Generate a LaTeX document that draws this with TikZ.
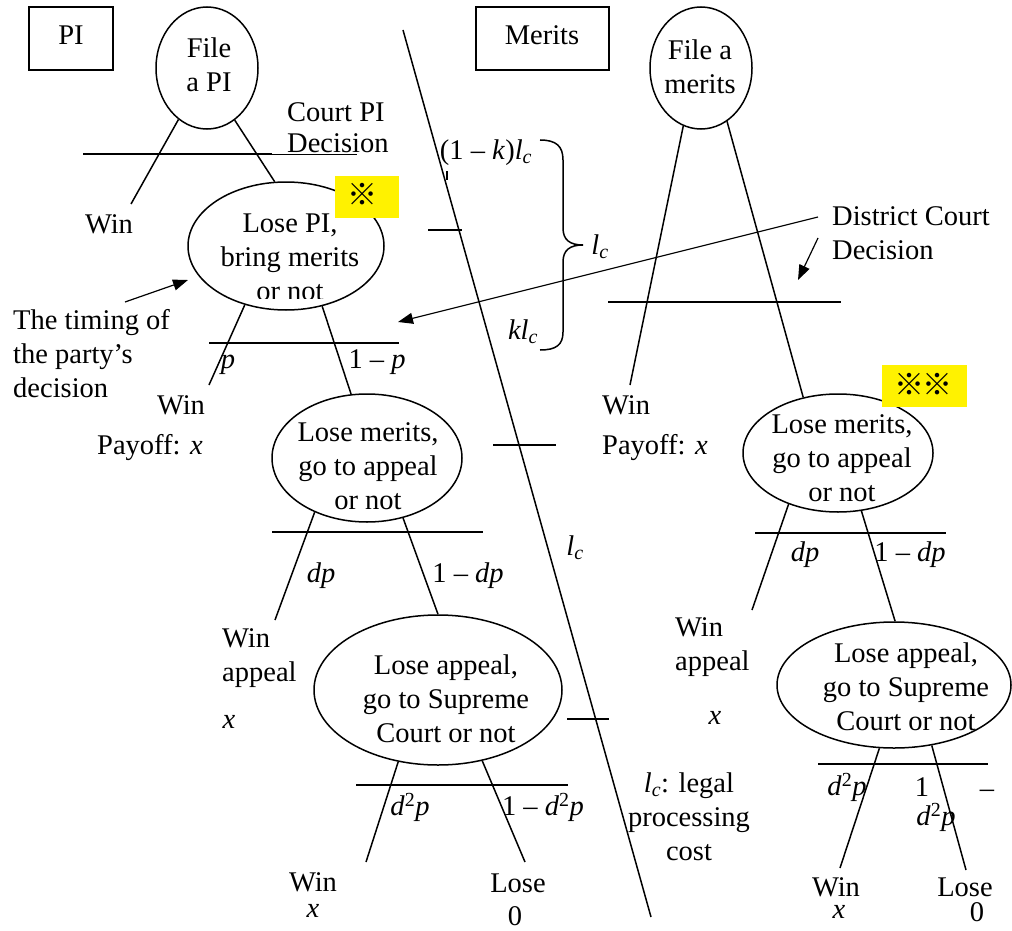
\documentclass[tikz,border=0pt]{standalone}
\usepackage{fontspec}
\setmainfont{Liberation Serif}
\newfontfamily\cjk{Noto Sans CJK JP}
\usetikzlibrary{shapes.geometric,arrows.meta}
\begin{document}
\begin{tikzpicture}[x=1pt,y=-1pt,
  every node/.style={font=\fontsize{28.5}{34}\selectfont, inner sep=0pt},
  lbl/.style={align=center},
  lblL/.style={align=left, anchor=west},
  oval/.style={draw, ellipse, line width=1.5pt},
  ln/.style={line width=1.5pt},
  thin/.style={line width=0.8pt},
  box/.style={draw, line width=1.5pt},
  arr/.style={line width=1.2pt, -{Triangle[length=15pt,width=11pt]}},
  refmark/.style={font=\cjk\fontsize{30}{30}\selectfont},
]
\useasboundingbox (0,0) rectangle (1012,931);

% title boxes
\node[box, minimum width=84pt, minimum height=63pt] (pibox) at (71,38.5) {};
\node (pilbl) at (71,35) {PI};
\node[box, minimum width=133pt, minimum height=63pt] (meritsbox) at (542.5,38.5) {};
\node (meritslbl) at (542,35) {Merits};

% ellipses
\node[oval, minimum width=102pt, minimum height=122pt] (filePI) at (207,68) {};
\node[oval, minimum width=196pt, minimum height=128pt] (losePI) at (286,246) {};
\node[oval, minimum width=190pt, minimum height=128pt] (lmL) at (367,458) {};
\node[oval, minimum width=248pt, minimum height=150pt] (laL) at (438,690) {};
\node[oval, minimum width=102pt, minimum height=122pt] (fileM) at (701,68) {};
\node[oval, minimum width=190pt, minimum height=118pt] (lmR) at (838,453) {};
\node[oval, minimum width=234pt, minimum height=126pt] (laR) at (894,685) {};

% ellipse texts
\node[lbl] (filePIt) at (209,65) {File\\a PI};
\begin{scope}
  \clip (180,190) rectangle (400,298);
  \node[lbl] (losePIt) at (290,257) {Lose PI,\\bring merits\\or not};
\end{scope}
\node[lbl] (lmLt) at (368,466) {Lose merits,\\go to appeal\\or not};
\node[lbl] (laLt) at (446,699) {Lose appeal,\\go to Supreme\\Court or not};
\node[lbl] (fileMt) at (700,67) {File a\\merits};
\node[lbl] (lmRt) at (842,458) {Lose merits,\\go to appeal\\or not};
\node[lbl] (laRt) at (906,687) {Lose appeal,\\go to Supreme\\Court or not};

% free ends
\coordinate (wA) at (131,204);
\coordinate (wB) at (209,385);
\coordinate (wC) at (275,620);
\coordinate (wD) at (366,862);
\coordinate (lD) at (525,862);
\coordinate (wE) at (630,385);
\coordinate (wF) at (752,610);
\coordinate (wG) at (840,868);
\coordinate (lG) at (966,870);

% branches
\draw[ln] (filePI.241) -- (wA);
\draw[ln] (filePI.298) -- (losePI.100);
\draw[ln] (losePI.235) -- (wB);
\draw[ln] (losePI.301) -- (lmL.104);
\draw[ln] (lmL.226) -- (wC);
\draw[ln] (lmL.301) -- (laL.90);
\draw[ln] (laL.241) -- (wD);
\draw[ln] (laL.302) -- (lD);
\draw[ln] (fileM.253) -- (wE);
\draw[ln] (fileM.296) -- (lmR.122);
\draw[ln] (lmR.226) -- (wF);
\draw[ln] (lmR.292) -- (laR.89);
\draw[ln] (laR.257) -- (wG);
\draw[ln] (laR.302) -- (lG);

% decision lines
\draw[ln] (83,154) -- (272,154);
\draw[thin] (272,154) -- (357,154);
\draw[ln] (209,343) -- (399,343);
\draw[ln] (272,532) -- (483,532);
\draw[ln] (356,785) -- (568,785);
\draw[ln] (608,302) -- (841,302);
\draw[ln] (755,533) -- (946,533);
\draw[ln] (818,764) -- (988,764);

% dividing line and ticks
\draw[ln] (403,30) -- (651,917);
\draw[ln] (428,230) -- (462,230);
\draw[ln] (493,445) -- (556,445);
\draw[ln] (567,719) -- (609,719);
\draw[line width=2.5pt] (447,171) -- (447,180);

% brace
\draw[ln] (540,140) .. controls (556,140) and (563,146) .. (563,160) -- (563,228)
  .. controls (563,240) and (570,245) .. (583,245)
  .. controls (570,245) and (563,250) .. (563,262) -- (563,332)
  .. controls (563,345) and (556,350) .. (540,350);

% arrows
\coordinate (tA) at (125,302);
\coordinate (tB) at (188,280);
\draw[arr] (tA) -- (tB);
\coordinate (dA) at (818,217);
\coordinate (dB) at (398,322);
\draw[arr] (dA) -- (dB);
\coordinate (sA) at (818,238);
\coordinate (sB) at (798,280);
\draw[arr] (sA) -- (sB);

% yellow marks
\fill[yellow] (335,176) rectangle (399,218);
\node[refmark] (m1) at (362,194) {※};
\fill[yellow] (882,365) rectangle (967,407);
\node[refmark] (m2a) at (909,384) {※};
\node[refmark] (m2b) at (937,384) {※};

% labels left tree
\node[anchor=west] (courtpi) at (287,112) {Court PI};
\begin{scope}
  \clip (280,120) rectangle (400,153);
  \node[anchor=west] (courtdec) at (287,143) {Decision};
\end{scope}
\node (win1) at (109,224) {Win};
\node[lblL] (timing) at (13,354) {The timing of\\the party’s\\decision};
\node (p1) at (228,365) {\textit{p}};
\node (q1) at (377,362) {1 – \textit{p}};
\node (win2) at (181,405) {Win};
\node (pay1) at (150,448) {Payoff: \textit{x}};
\node (dp1) at (321,576) {\textit{dp}};
\node (q2) at (468,576) {1 – \textit{dp}};
\node[lblL] (winap1) at (222,658) {Win\\appeal};
\node (x1) at (229,722) {\textit{x}};
\node (d2p1) at (410,807) {\textit{d}\textsuperscript{2}\textit{p}};
\node (q3) at (543,807) {1 – \textit{d}\textsuperscript{2}\textit{p}};
\node (win3) at (313,882) {Win};
\node (x2) at (313,911) {\textit{x}};
\node (lose1) at (518,883) {Lose};
\node (z1) at (515,916) {0};

% cost labels
\node (klc1) at (486,153) {(1 – \textit{k})\textit{l}\textsubscript{\textit{c}}};
\node (lc1) at (600,247) {\textit{l}\textsubscript{\textit{c}}};
\node (klc2) at (523,332) {\textit{kl}\textsubscript{\textit{c}}};
\node (lc2) at (575,548) {\textit{l}\textsubscript{\textit{c}}};
\node[lbl] (lcleg) at (689,817) {\textit{l}\textsubscript{\textit{c}}: legal\\processing\\cost};

% labels right tree
\node[lblL] (dcd) at (832,233) {District Court\\Decision};
\node[anchor=west] (win4) at (602,405) {Win};
\node[anchor=west] (pay2) at (602,448) {Payoff: \textit{x}};
\node (dp2) at (805,555) {\textit{dp}};
\node (q4) at (910,555) {1 – \textit{dp}};
\node[lblL] (winap2) at (675,647) {Win\\appeal};
\node (x3) at (715,718) {\textit{x}};
\node (d2p2) at (847,787) {\textit{d}\textsuperscript{2}\textit{p}};
\node (one) at (922,787) {1};
\node[anchor=base] (dash) at (987,797) {–};
\node (d2p3) at (936,817) {\textit{d}\textsuperscript{2}\textit{p}};
\node (win5) at (836,887) {Win};
\node (x4) at (839,912) {\textit{x}};
\node (lose2) at (965,887) {Lose};
\node (z2) at (977,912) {0};
\end{tikzpicture}
\end{document}
